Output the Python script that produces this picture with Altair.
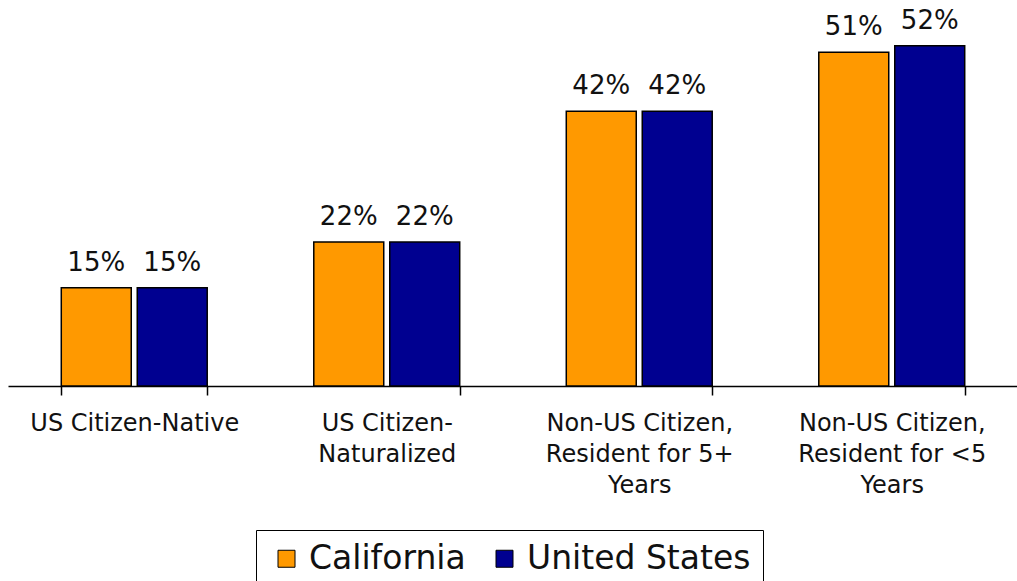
import altair as alt
import pandas as pd

# Share of each group, by citizenship status
categories = [
    "US Citizen-Native",
    "US Citizen-|Naturalized",
    "Non-US Citizen,|Resident for 5+|Years",
    "Non-US Citizen,|Resident for <5|Years",
]
series = ["California", "United States"]
california = [15, 22, 42, 51]
united_states = [15, 22, 42, 52]
colors = ["#FF9900", "#000090"]

rows = []
for cat, ca, us in zip(categories, california, united_states):
    rows.append({"category": cat, "region": series[0], "value": ca})
    rows.append({"category": cat, "region": series[1], "value": us})
df = pd.DataFrame(rows)

FONT = "DejaVu Sans"

x = alt.X(
    "category:N",
    sort=categories,
    scale=alt.Scale(
        domain=categories,
        range=[0, 1010],
        paddingInner=0.422,
        paddingOuter=0.211,
    ),
    axis=alt.Axis(
        title=None,
        grid=False,
        domainColor="black",
        domainWidth=1.5,
        tickColor="black",
        tickWidth=1.5,
        tickSize=9,
        tickBand="extent",
        labelAngle=0,
        labelFont=FONT,
        labelFontSize=24,
        labelColor="#111111",
        labelLineHeight=31,
        labelPadding=16,
        labelLimit=0,
        labelExpr="split(datum.label, '|')",
    ),
)
x_offset = alt.XOffset(
    "region:N", sort=series, scale=alt.Scale(paddingInner=0.079, paddingOuter=0)
)
y = alt.Y("value:Q", scale=alt.Scale(domain=[0, 59], nice=False), axis=None)

bars = alt.Chart(df).mark_bar(stroke="black", strokeWidth=1.5).encode(
    x=x,
    xOffset=x_offset,
    y=y,
    color=alt.Color(
        "region:N",
        sort=series,
        scale=alt.Scale(domain=series, range=colors),
        legend=alt.Legend(
            title=None,
            orient="none",
            legendX=248,
            legendY=530,
            direction="horizontal",
            strokeColor="black",
            fillColor="white",
            padding=12,
            symbolOffset=2,
            symbolType="square",
            symbolSize=289,
            symbolStrokeColor="black",
            symbolStrokeWidth=1,
            labelFont=FONT,
            labelFontSize=33,
            labelColor="#111111",
            labelOffset=6,
            columnPadding=20,
            labelLimit=0,
        ),
    ),
)

labels = (
    alt.Chart(df)
    .transform_calculate(label="datum.value + '%'")
    .mark_text(
        font=FONT, fontSize=26, color="#111111", baseline="alphabetic", dy=-17
    )
    .encode(x=x, xOffset=x_offset, y=y, text="label:N")
)

chart = (
    alt.layer(bars, labels)
    .properties(
        width=1009,
        height=386,
        autosize=alt.AutoSizeParams(type="none"),
        padding={"left": 8, "top": 0, "right": 0, "bottom": 195},
        view=alt.ViewBackground(strokeOpacity=0, strokeWidth=0),
    )
    .configure_view(strokeOpacity=0, strokeWidth=0)
    .configure(background="white")
)

chart.save("out.html", embed_options={"renderer": "svg", "actions": False})
